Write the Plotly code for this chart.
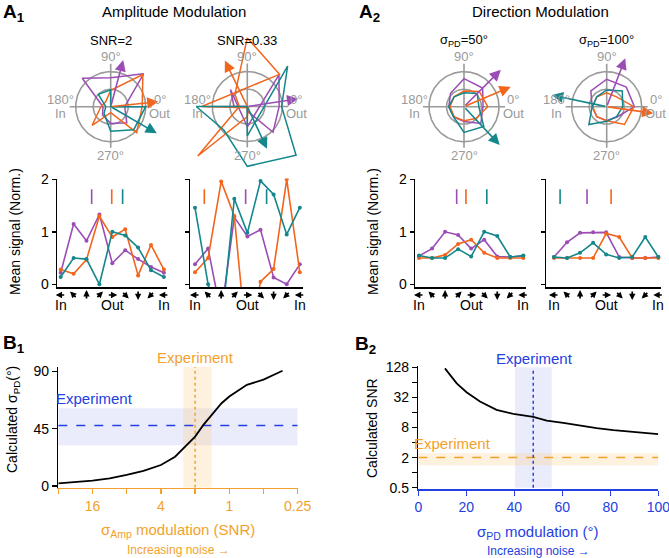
import numpy as np
import plotly.graph_objects as go

W, H = 669, 558

# ---------------- data ----------------
directions_deg = [180, 135, 90, 45, 0, -45, -90, -135, -180]
direction_names = ["In", "Out", "In"]
direction_name_pos = [0, 4, 8]

series_colors = ["#9b4db5", "#f2651c", "#13878b"]  # purple, orange, teal

# A1 amplitude modulation tuning curves (purple, orange, teal)
snr2_purple = [0.22, 1.15, 0.83, 1.33, 0.40, 0.65, 0.48, 0.33, 0.22]
snr2_orange = [0.28, 0.20, 0.47, 1.30, 0.90, 1.05, 0.17, 0.75, 0.28]
snr2_teal = [0.14, 0.50, 0.48, 0.00, 1.00, 0.93, 0.70, 0.27, 0.14]

snr033_purple = [0.38, 0.68, -0.58, 1.28, 0.91, 1.04, 0.13, 0.00, 0.38]
snr033_orange = [0.23, 0.50, 1.96, 1.30, -1.30, 0.05, 0.29, 2.00, 0.23]
snr033_teal = [1.46, 0.00, -0.84, 1.63, 0.98, 1.97, 1.71, 0.95, 1.46]

# A2 direction modulation tuning curves
pd50_purple = [0.54, 0.68, 1.00, 0.94, 0.68, 0.85, 0.53, 0.52, 0.54]
pd50_orange = [0.50, 0.50, 0.56, 0.77, 0.85, 0.60, 0.50, 0.50, 0.50]
pd50_teal = [0.55, 0.50, 0.50, 0.67, 0.53, 1.00, 0.92, 0.52, 0.55]

pd100_purple = [0.52, 0.80, 0.98, 0.99, 0.99, 0.52, 0.50, 0.50, 0.52]
pd100_orange = [0.50, 0.50, 0.50, 0.50, 0.97, 0.90, 0.50, 0.50, 0.50]
pd100_teal = [0.52, 0.50, 0.60, 0.79, 0.57, 0.50, 0.52, 0.90, 0.52]

# population vectors (angle in deg, length) : purple, orange, teal
snr2_vec_angle = [75, 6, -30]
snr2_vec_len = [1.38, 1.37, 1.52]
snr033_vec_angle = [8.6, 116, -65]
snr033_vec_len = [1.47, 1.46, 1.33]
pd50_vec_angle = [45, 23, -47]
pd50_vec_len = [1.86, 1.81, 1.87]
pd100_vec_angle = [69, -8, 168]
pd100_vec_len = [1.85, 1.68, 2.00]

# preferred-direction marks on tuning curve panels (deg)
snr2_pd_mark = [72, 2, -36]
snr033_pd_mark = [6, 148, -66]
pd50_pd_mark = [50, 18, -54]
pd100_pd_mark = [66, -17, 159]

panel_titles = ["SNR=2", "SNR=0.33", "σ<sub>PD</sub>=50°", "σ<sub>PD</sub>=100°"]

# B1: calculated sigma_PD vs amplitude SNR
b1_snr = [32, 16, 11.3, 8, 5.7, 4, 3, 2.45, 2, 1.69, 1.38, 1.17, 1, 0.83, 0.7, 0.5, 0.34]
b1_sigma = [2.1, 4.2, 6.0, 8.7, 12, 16.5, 23, 31, 38.8, 48, 57, 65, 70.3, 74.8, 79.5, 83.5, 90.5]
b1_exp_snr = 2.0
b1_exp_snr_band = [1.43, 2.54]
b1_exp_sigma = 47.5
b1_exp_sigma_band = [32, 61]
b1_xticks = [32, 16, 8, 4, 2, 1, 0.5, 0.25]
b1_xticklabels = ["", "16", "", "4", "", "1", "", "0.25"]
b1_yticks = [0, 45, 90]

# B2: calculated SNR vs sigma_PD
b2_sigma = [11.1, 16, 20.1, 25.7, 32.6, 39.6, 47.9, 53.5, 60.4, 67.4, 74.3, 81.3, 88.2, 100]
b2_snr = [122, 61, 40.5, 26.4, 18, 15.0, 13.0, 11.0, 9.9, 8.7, 7.8, 7.1, 6.6, 5.9]
b2_exp_sigma = 47.9
b2_exp_sigma_band = [40.3, 55.6]
b2_exp_snr = 2.0
b2_exp_snr_band = [1.41, 2.43]
b2_xticks = [0, 20, 40, 60, 80, 100]
b2_yticks = [0.5, 1, 2, 4, 8, 16, 32, 64, 128]
b2_yticklabels = ["0.5", "", "2", "", "8", "", "32", "", "128"]

# ---------------- styling / layout helpers ----------------
FONT = "Liberation Sans, Arial, Helvetica, sans-serif"
GREY = "#9a9a9a"
B_ORANGE = "#f2a22c"
B_BLUE = "#2340e0"

fig = go.Figure()
axes = {}
annotations = []


def fx(p):
    return min(max(p / W, 0), 1)


def fy(p):
    return min(max(1 - p / H, 0), 1)


def ax_ids(n):
    return ("x" if n == 1 else f"x{n}", "y" if n == 1 else f"y{n}")


def set_axes(n, xpx, ypx, xrange, yrange, xopts, yopts):
    xr, yr = ax_ids(n)
    kx = "xaxis" if n == 1 else f"xaxis{n}"
    ky = "yaxis" if n == 1 else f"yaxis{n}"
    axes[kx] = dict(domain=[fx(xpx[0]), fx(xpx[1])], range=xrange, anchor=yr,
                    showgrid=False, zeroline=False, fixedrange=True, automargin=False,
                    ticklabeloverflow="allow", **xopts)
    axes[ky] = dict(domain=[fy(ypx[1]), fy(ypx[0])], range=yrange, anchor=xr,
                    showgrid=False, zeroline=False, fixedrange=True, automargin=False,
                    ticklabeloverflow="allow", **yopts)


def txt(x, y, text, size=13, color="black", xref="paper", yref="paper", **kw):
    if xref == "paper":
        x = x / W
    if yref == "paper":
        y = 1 - y / H
    d = dict(x=x, y=y, xref=xref, yref=yref, text=text, showarrow=False,
             xanchor="center", yanchor="middle",
             font=dict(size=size, color=color, family=FONT))
    d.update(kw)
    annotations.append(d)


# ---------------- polar (drawn on equal-scaled cartesian axes) ----------------
polar_sets = [
    ([snr2_purple, snr2_orange, snr2_teal], snr2_vec_angle, snr2_vec_len),
    ([snr033_purple, snr033_orange, snr033_teal], snr033_vec_angle, snr033_vec_len),
    ([pd50_purple, pd50_orange, pd50_teal], pd50_vec_angle, pd50_vec_len),
    ([pd100_purple, pd100_orange, pd100_teal], pd100_vec_angle, pd100_vec_len),
]
polar_centers = [(110.7, 106.7), (247.3, 106.5), (464.0, 106.7), (606.7, 106.7)]
polar_px_per_unit = [35, 35, 28, 28]
theta = np.radians(directions_deg)
ring = np.linspace(0, 2 * np.pi, 241)

for k, (vals, vang, vlen) in enumerate(polar_sets):
    n = k + 1
    cx, cy = polar_centers[k]
    s = polar_px_per_unit[k]
    left, right = max(cx - 80, 0), min(cx + 80, W)
    set_axes(n, (left, right), (24, 178), [(left - cx) / s, (right - cx) / s],
             [(cy - 178) / s, (cy - 24) / s], dict(visible=False), dict(visible=False))
    xr, yr = ax_ids(n)
    for rp in (35, 17.5):
        fig.add_trace(go.Scatter(x=rp / s * np.cos(ring), y=rp / s * np.sin(ring), mode="lines",
                                 line=dict(color=GREY, width=1.6), xaxis=xr, yaxis=yr,
                                 hoverinfo="skip"))
    fig.add_trace(go.Scatter(x=[-41 / s, 41 / s, None, 0, 0], y=[0, 0, None, -41 / s, 43 / s],
                             mode="lines", line=dict(color=GREY, width=1.6), xaxis=xr, yaxis=yr,
                             hoverinfo="skip"))
    for v, col in zip(vals, series_colors):
        r = np.array(v, dtype=float)
        fig.add_trace(go.Scatter(x=r * np.cos(theta), y=r * np.sin(theta), mode="lines",
                                 line=dict(color=col, width=1.5), xaxis=xr, yaxis=yr))
    for a, L, col in zip(vang, vlen, series_colors):
        ar = np.radians(a)
        annotations.append(dict(x=L * np.cos(ar), y=L * np.sin(ar), ax=0, ay=0,
                                xref=xr, yref=yr, axref=xr, ayref=yr, text="",
                                showarrow=True, arrowhead=2, arrowsize=1.4,
                                arrowwidth=1.6, arrowcolor=col))
    txt(0, 50 / s, "90°", 13, GREY, xr, yr)
    txt(0, -49 / s, "270°", 13, GREY, xr, yr)
    txt(-50 / s, 7 / s, "180°", 13, GREY, xr, yr)
    txt(-50 / s, -7 / s, "In", 13, GREY, xr, yr)
    txt(49 / s, 7 / s, "0°", 13, GREY, xr, yr)
    txt(49 / s, -7 / s, "Out", 13, GREY, xr, yr)
    txt(cx, 40, panel_titles[k], 13)

# ---------------- tuning curves ----------------
line_sets = [[snr2_purple, snr2_orange, snr2_teal],
             [snr033_purple, snr033_orange, snr033_teal],
             [pd50_purple, pd50_orange, pd50_teal],
             [pd100_purple, pd100_orange, pd100_teal]]
pd_marks = [snr2_pd_mark, snr033_pd_mark, pd50_pd_mark, pd100_pd_mark]
line_axis_left = [57, 190, 415, 546]
line_first_px = [60.7, 195, 419, 554]
line_step_px = [12.9, 13.1, 13.04, 13.04]
LT, LB, LZ, LPU = 178.5, 287, 284.3, 52.5
ARROW_Y, ARROW_HALF = 295.0, 5.0
idx = list(range(len(directions_deg)))

for k, vals in enumerate(line_sets):
    n = k + 5
    xr, yr = ax_ids(n)
    L0, x0, st = line_axis_left[k], line_first_px[k], line_step_px[k]
    R0 = min(x0 + 8 * st + 3, W)
    set_axes(n, (L0, R0), (LT, LB), [(L0 - x0) / st, (R0 - x0) / st],
             [(LZ - LB) / LPU, (LZ - LT) / LPU],
             dict(showline=True, linecolor="black", linewidth=1.5, tickmode="array",
                  tickvals=idx, showticklabels=False, ticks=""),
             dict(showline=True, linecolor="black", linewidth=1.5, tickmode="array",
                  tickvals=[0, 1, 2], ticktext=["0", "1", "2"], ticks="outside", ticklen=4,
                  tickwidth=1.5, tickcolor="black", showticklabels=(k % 2 == 0),
                  tickfont=dict(size=14, family=FONT, color="black")))
    for v, col in zip(vals, series_colors):
        fig.add_trace(go.Scatter(x=idx, y=v, mode="lines+markers",
                                 line=dict(color=col, width=1.6),
                                 marker=dict(color=col, size=4), xaxis=xr, yaxis=yr))
    for a, col in zip(pd_marks[k], series_colors):
        p = (180 - a) / 45
        fig.add_trace(go.Scatter(x=[p, p], y=[1.53, 1.81], mode="lines",
                                 line=dict(color=col, width=1.6), xaxis=xr, yaxis=yr))
    # direction glyph arrows under each tick (positioned at the tick pixel location)
    for i, d in zip(idx, directions_deg):
        dr = np.radians(d)
        cxp = x0 + i * st
        hx = (cxp + ARROW_HALF * np.cos(dr)) / W
        hy = 1 - (ARROW_Y - ARROW_HALF * np.sin(dr)) / H
        annotations.append(dict(x=hx, y=hy, xref="paper", yref="paper", text="", showarrow=True,
                                ax=-2 * ARROW_HALF * np.cos(dr), ay=2 * ARROW_HALF * np.sin(dr),
                                axref="pixel", ayref="pixel", arrowhead=2, arrowsize=0.75,
                                arrowwidth=1.7, arrowcolor="black"))
    for name, pos in zip(direction_names, direction_name_pos):
        txt(pos, 305, name, 14, "black", xr, "paper")

txt(15, 232, "Mean signal (Norm.)", 14, textangle=-90)
txt(373, 232, "Mean signal (Norm.)", 14, textangle=-90)

# ---------------- B1 ----------------
n = 9
xr, yr = ax_ids(n)
b1_ylo, b1_yhi = -1.3, 93.7
set_axes(n, (58.3, 297.7), (366.7, 487.7), [np.log10(b1_xticks[0]), np.log10(b1_xticks[-1])],
         [b1_ylo, b1_yhi],
         dict(type="log", showline=True, linecolor=B_ORANGE, linewidth=1.5, tickmode="array",
              tickvals=b1_xticks, ticktext=b1_xticklabels, ticks="outside", ticklen=5,
              tickwidth=1.5, tickcolor=B_ORANGE, tickfont=dict(size=14, color=B_ORANGE, family=FONT)),
         dict(showline=True, linecolor="black", linewidth=1.5, tickmode="array",
              tickvals=b1_yticks, ticks="outside", ticklen=5, tickwidth=1.5, tickcolor="black",
              tickfont=dict(size=14, color="black", family=FONT)))
bx0, bx1 = b1_xticks[0], b1_xticks[-1]
fig.add_trace(go.Scatter(x=[bx0, bx1, bx1, bx0], y=[b1_exp_sigma_band[0]] * 2 + [b1_exp_sigma_band[1]] * 2,
                         fill="toself", fillcolor="rgba(120,130,225,0.15)", line=dict(width=0),
                         mode="lines", xaxis=xr, yaxis=yr))
fig.add_trace(go.Scatter(x=[b1_exp_snr_band[0], b1_exp_snr_band[1], b1_exp_snr_band[1], b1_exp_snr_band[0]],
                         y=[b1_ylo, b1_ylo, b1_yhi, b1_yhi], fill="toself",
                         fillcolor="rgba(250,200,120,0.25)", line=dict(width=0), mode="lines",
                         xaxis=xr, yaxis=yr))
fig.add_trace(go.Scatter(x=[bx0, bx1], y=[b1_exp_sigma] * 2, mode="lines",
                         line=dict(color=B_BLUE, width=1.5, dash="dash"), xaxis=xr, yaxis=yr))
fig.add_trace(go.Scatter(x=[b1_exp_snr] * 2, y=[b1_ylo, b1_yhi], mode="lines",
                         line=dict(color=B_ORANGE, width=1.5, dash="dot"), xaxis=xr, yaxis=yr))
fig.add_trace(go.Scatter(x=b1_snr, y=b1_sigma, mode="lines", line=dict(color="black", width=1.8),
                         xaxis=xr, yaxis=yr))
txt(195, 357, "Experiment", 15, B_ORANGE)
txt(94, 398.5, "Experiment", 15, B_BLUE)
txt(13, 420, "Calculated σ<sub>PD</sub>(°)", 14, textangle=-90)
txt(178, 530, "σ<sub>Amp</sub> modulation (SNR)", 15, B_ORANGE)
txt(178, 550, "Increasing noise →", 12, B_ORANGE)

# ---------------- B2 ----------------
n = 10
xr, yr = ax_ids(n)
kpx = (np.log10(128) - np.log10(0.5)) / (487.7 - 367.3)
b2_yr = [np.log10(0.5) - 1.3 * kpx, np.log10(128) + 1.3 * kpx]
set_axes(n, (418.3, 658.3), (366.0, 489.0), [0, 100], b2_yr,
         dict(showline=True, linecolor=B_BLUE, linewidth=1.5, tickmode="array",
              tickvals=b2_xticks, ticks="outside", ticklen=5, tickwidth=1.5, tickcolor=B_BLUE,
              tickfont=dict(size=14, color=B_BLUE, family=FONT)),
         dict(type="log", showline=True, linecolor="black", linewidth=1.5, tickmode="array",
              tickvals=b2_yticks, ticktext=b2_yticklabels, ticks="outside", ticklen=5,
              tickwidth=1.5, tickcolor="black", tickfont=dict(size=14, color="black", family=FONT)))
fig.add_trace(go.Scatter(x=[b2_exp_sigma_band[0], b2_exp_sigma_band[1], b2_exp_sigma_band[1], b2_exp_sigma_band[0]],
                         y=[0.5, 0.5, 128, 128], fill="toself", fillcolor="rgba(120,130,225,0.15)",
                         line=dict(width=0), mode="lines", xaxis=xr, yaxis=yr))
fig.add_trace(go.Scatter(x=[0, 100, 100, 0], y=[b2_exp_snr_band[0]] * 2 + [b2_exp_snr_band[1]] * 2,
                         fill="toself", fillcolor="rgba(250,200,120,0.25)", line=dict(width=0),
                         mode="lines", xaxis=xr, yaxis=yr))
fig.add_trace(go.Scatter(x=[0, 100], y=[b2_exp_snr] * 2, mode="lines",
                         line=dict(color=B_ORANGE, width=1.5, dash="dash"), xaxis=xr, yaxis=yr))
fig.add_trace(go.Scatter(x=[b2_exp_sigma] * 2, y=[0.5, 122], mode="lines",
                         line=dict(color=B_BLUE, width=1.5, dash="dot"), xaxis=xr, yaxis=yr))
fig.add_trace(go.Scatter(x=b2_sigma, y=b2_snr, mode="lines", line=dict(color="black", width=1.8),
                         xaxis=xr, yaxis=yr))
txt(534, 358.5, "Experiment", 15, B_BLUE)
txt(453, 443, "Experiment", 15, B_ORANGE)
txt(372, 428, "Calculated SNR", 14, textangle=-90)
txt(538, 532, "σ<sub>PD</sub> modulation (°)", 15, B_BLUE)
txt(538, 551, "Increasing noise →", 12, B_BLUE)

# ---------------- headings ----------------
txt(174, 12, "Amplitude Modulation", 15)
txt(540, 12, "Direction Modulation", 15)
txt(1, 13, "<b>A<sub>1</sub></b>", 19, xanchor="left")
txt(357, 13, "<b>A<sub>2</sub></b>", 19, xanchor="left")
txt(1, 344, "<b>B<sub>1</sub></b>", 19, xanchor="left")
txt(353, 345, "<b>B<sub>2</sub></b>", 19, xanchor="left")

fig.update_layout(width=W, height=H, margin=dict(l=0, r=0, t=0, b=0, pad=0, autoexpand=False),
                  paper_bgcolor="white", plot_bgcolor="rgba(0,0,0,0)",
                  showlegend=False, hovermode=False, font=dict(family=FONT, color="black"),
                  annotations=annotations, **axes)
fig.write_html("out.html", config={"displayModeBar": False, "staticPlot": True},
               post_script="document.body.style.margin='0';document.body.style.overflow='hidden';")
